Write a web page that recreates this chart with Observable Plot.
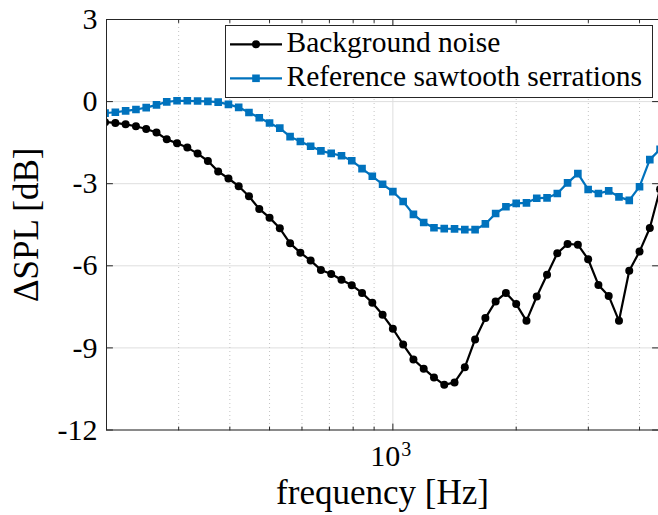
<!DOCTYPE html>
<html>
<head>
<meta charset="utf-8">
<script src="https://cdn.jsdelivr.net/npm/d3@7"></script>
<script src="https://cdn.jsdelivr.net/npm/@observablehq/plot@0.6"></script>
<style>
  html, body { margin: 0; padding: 0; background: #fff; }
  #wrap { position: relative; width: 658px; height: 515px; overflow: hidden; }
</style>
</head>
<body>
<div id="wrap"></div>
<script>
// 1/12-octave band frequencies (Hz)
const freqHz = [198.4, 210.2, 222.7, 236.0, 250.0, 264.9, 280.6, 297.3, 315.0, 333.7,
  353.6, 374.6, 396.9, 420.4, 445.4, 471.9, 500.0, 529.7, 561.2, 594.6,
  630.0, 667.4, 707.1, 749.2, 793.7, 840.9, 890.9, 943.9, 1000, 1059.5,
  1122.5, 1189.2, 1259.9, 1334.8, 1414.2, 1498.3, 1587.4, 1681.8, 1781.8, 1887.7,
  2000, 2118.9, 2244.9, 2378.4, 2519.8, 2669.6, 2828.4, 2996.6, 3174.8, 3363.6,
  3563.6, 3775.5, 4000, 4237.8, 4489.8];

const backgroundNoise = [-0.75, -0.78, -0.83, -0.90, -1.00, -1.13, -1.38, -1.52, -1.68, -1.90,
  -2.17, -2.55, -2.81, -3.09, -3.46, -3.92, -4.24, -4.63, -5.18, -5.52,
  -5.81, -6.15, -6.30, -6.51, -6.71, -6.99, -7.35, -7.79, -8.30, -8.88,
  -9.42, -9.76, -10.08, -10.35, -10.26, -9.71, -8.69, -7.91, -7.30, -6.99,
  -7.40, -8.01, -7.12, -6.33, -5.54, -5.20, -5.23, -5.76, -6.70, -7.10,
  -8.01, -6.18, -5.48, -4.62, -3.20];

const sawtoothSerrations = [-0.42, -0.39, -0.34, -0.29, -0.22, -0.12, -0.01, 0.03, 0.03, 0.02,
  0.01, -0.02, -0.10, -0.21, -0.40, -0.59, -0.78, -0.97, -1.28, -1.46,
  -1.63, -1.80, -1.89, -1.98, -2.16, -2.45, -2.73, -3.02, -3.29, -3.65,
  -4.12, -4.42, -4.61, -4.64, -4.65, -4.68, -4.68, -4.47, -4.09, -3.84,
  -3.72, -3.70, -3.53, -3.52, -3.36, -2.97, -2.63, -3.21, -3.36, -3.26,
  -3.48, -3.61, -3.11, -2.12, -1.74];

const yTickValues = [3, 0, -3, -6, -9, -12];
const xMinorTicks = [300, 400, 500, 600, 700, 800, 900, 2000, 3000, 4000];
const xMajorTicks = [1000];
const xTickBase = ["10"];
const xTickExponent = ["3"];
const seriesNames = ["Background noise", "Reference sawtooth serrations"];
const seriesColors = ["#000000", "#0072BD"];
const xLabel = "frequency [Hz]";
const yLabel = "ΔSPL [dB]";

const bg = freqHz.map((f, i) => ({f, v: backgroundNoise[i]}));
const st = freqHz.map((f, i) => ({f, v: sawtoothSerrations[i]}));

const tickShape = {draw(context, l) { context.moveTo(0, 0); context.lineTo(0, -l); }};
const axisColor = "#262626";
const font = "Liberation Serif";

const chart = Plot.plot({
  width: 658,
  height: 515,
  marginLeft: 106,
  marginRight: 0,
  marginTop: 19,
  marginBottom: 85.5,
  x: {type: "log", domain: [200, 4450], axis: null},
  y: {domain: [-12, 3], axis: null},
  style: {fontFamily: font, background: "#fff", color: "#000"},
  marks: [
    Plot.ruleY(yTickValues, {y: d => d, stroke: "#dedede", strokeWidth: 1}),
    Plot.ruleX(xMinorTicks, {x: d => d, stroke: "#c4c4c4", strokeWidth: 1, strokeDasharray: "1,3"}),
    Plot.ruleX(xMajorTicks, {x: d => d, stroke: "#dedede", strokeWidth: 1}),
    Plot.line(bg, {x: "f", y: "v", stroke: seriesColors[0], strokeWidth: 2.2, clip: true}),
    Plot.dot(bg, {x: "f", y: "v", r: 4, fill: seriesColors[0], stroke: "none", clip: true}),
    Plot.line(st, {x: "f", y: "v", stroke: seriesColors[1], strokeWidth: 2.2, clip: true}),
    Plot.dot(st, {x: "f", y: "v", r: 4.3, symbol: "square", fill: seriesColors[1], stroke: "none", clip: true}),
    Plot.frame({stroke: axisColor, strokeWidth: 1}),
    // inward ticks
    Plot.vector(yTickValues, {y: d => d, frameAnchor: "left", length: 6, rotate: 90, anchor: "start", shape: tickShape, stroke: axisColor, strokeWidth: 1}),
    Plot.vector(yTickValues, {y: d => d, frameAnchor: "right", length: 6, rotate: -90, anchor: "start", shape: tickShape, stroke: axisColor, strokeWidth: 1}),
    Plot.vector(xMinorTicks, {x: d => d, frameAnchor: "bottom", length: 3, rotate: 0, anchor: "start", shape: tickShape, stroke: axisColor, strokeWidth: 1}),
    Plot.vector(xMajorTicks, {x: d => d, frameAnchor: "bottom", length: 6, rotate: 0, anchor: "start", shape: tickShape, stroke: axisColor, strokeWidth: 1}),
    Plot.vector(xMinorTicks, {x: d => d, frameAnchor: "top", length: 3, rotate: 180, anchor: "start", shape: tickShape, stroke: axisColor, strokeWidth: 1}),
    Plot.vector(xMajorTicks, {x: d => d, frameAnchor: "top", length: 6, rotate: 180, anchor: "start", shape: tickShape, stroke: axisColor, strokeWidth: 1}),
    // tick labels
    Plot.text(yTickValues, {y: d => d, frameAnchor: "left", text: d => String(d), textAnchor: "end", lineAnchor: "middle", dx: -9, fontSize: 30, fontFamily: font, fill: "#000"}),
    Plot.text(xMajorTicks, {x: d => d, frameAnchor: "bottom", text: (d, i) => xTickBase[i], textAnchor: "end", lineAnchor: "bottom", dx: 7.5, dy: 35.5, fontSize: 30, fontFamily: font, fill: "#000"}),
    Plot.text(xMajorTicks, {x: d => d, frameAnchor: "bottom", text: (d, i) => xTickExponent[i], textAnchor: "start", lineAnchor: "bottom", dx: 8.5, dy: 25.5, fontSize: 20, fontFamily: font, fill: "#000"}),
    // axis labels
    Plot.text([xLabel], {frameAnchor: "bottom", text: d => d, textAnchor: "middle", lineAnchor: "bottom", dy: 73.5, fontSize: 35, fontFamily: font, fill: "#000"}),
    Plot.text([yLabel], {frameAnchor: "left", text: d => d, rotate: -90, textAnchor: "middle", lineAnchor: "bottom", dx: -69, fontSize: 35, fontFamily: font, fill: "#000"})
  ]
});

const wrap = document.getElementById("wrap");
wrap.appendChild(chart);

// legend (inside the axes, top right)
const ns = "http://www.w3.org/2000/svg";
const leg = document.createElementNS(ns, "svg");
leg.setAttribute("width", 429);
leg.setAttribute("height", 73);
leg.style.position = "absolute";
leg.style.left = "225px";
leg.style.top = "25px";
const box = document.createElementNS(ns, "rect");
box.setAttribute("x", 0.5); box.setAttribute("y", 0.5);
box.setAttribute("width", 427); box.setAttribute("height", 72);
box.setAttribute("fill", "#fff"); box.setAttribute("stroke", axisColor); box.setAttribute("stroke-width", 1);
leg.appendChild(box);
const rowsY = [19.3, 53.3];
seriesNames.forEach((name, i) => {
  const y = rowsY[i];
  const ln = document.createElementNS(ns, "line");
  ln.setAttribute("x1", 5); ln.setAttribute("x2", 57);
  ln.setAttribute("y1", y); ln.setAttribute("y2", y);
  ln.setAttribute("stroke", seriesColors[i]); ln.setAttribute("stroke-width", 2.2);
  leg.appendChild(ln);
  let m;
  if (i === 0) {
    m = document.createElementNS(ns, "circle");
    m.setAttribute("cx", 31); m.setAttribute("cy", y); m.setAttribute("r", 4);
  } else {
    m = document.createElementNS(ns, "rect");
    m.setAttribute("x", 31 - 3.8); m.setAttribute("y", y - 3.8);
    m.setAttribute("width", 7.6); m.setAttribute("height", 7.6);
  }
  m.setAttribute("fill", seriesColors[i]);
  leg.appendChild(m);
  const t = document.createElementNS(ns, "text");
  t.setAttribute("x", 61.5); t.setAttribute("y", y + 7.6);
  t.setAttribute("font-family", font); t.setAttribute("font-size", 29.5);
  t.setAttribute("fill", "#000");
  t.textContent = name;
  leg.appendChild(t);
});
wrap.appendChild(leg);
</script>
</body>
</html>
